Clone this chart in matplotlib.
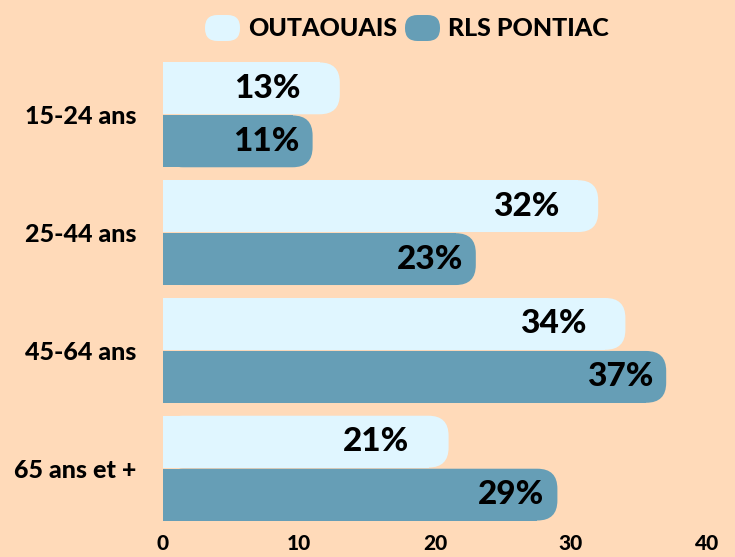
import matplotlib
matplotlib.use("Agg")
import matplotlib.pyplot as plt
from matplotlib.patches import FancyBboxPatch
import numpy as np

# data
categories = ["15-24 ans", "25-44 ans", "45-64 ans", "65 ans et +"]
outaouais = [13, 32, 34, 21]
rls_pontiac = [11, 23, 37, 29]
series_names = ["OUTAOUAIS", "RLS PONTIAC"]
x_ticks = [0, 10, 20, 30, 40]

BG = "#FFDAB9"
LIGHT = "#E0F6FF"
BLUE = "#669EB6"
WEIGHT = "black"

plt.rcParams["font.family"] = ["Lato", "DejaVu Sans"]

fig = plt.figure(figsize=(7.35, 5.57), dpi=100, facecolor=BG)
ax = fig.add_axes([163 / 735, 1 - 527 / 557, 544 / 735, 471 / 557])
ax.set_facecolor(BG)
ax.set_xlim(0, 40)
ax.set_ylim(3.5, -0.5)

y = np.arange(len(categories))
h = 0.44
off = 0.225

# rounding in data units (about 20 px)
px_x = 544 / 40
px_y = 471 / 4
rx = 20 / px_x
ry = 20 / px_y

def rounded_bars(ypos, vals, color, label_off):
    ax.barh(ypos, [v - rx for v in vals], height=h, color=color, linewidth=0)
    for yy, v in zip(ypos, vals):
        p = FancyBboxPatch((0, yy - h / 2), v, h,
                           boxstyle=f"round,pad=0,rounding_size={rx}",
                           mutation_aspect=ry / rx, facecolor=color,
                           edgecolor="none")
        ax.add_patch(p)
        ax.text(v - label_off / px_x, yy, f"{v}%", ha="right", va="center",
                fontsize=24, fontweight=WEIGHT, color="black")

rounded_bars(y - off, outaouais, LIGHT, 39)
rounded_bars(y + off, rls_pontiac, BLUE, 13)

ax.set_yticks(y)
ax.set_yticklabels(categories, fontsize=18, fontweight=WEIGHT)
ax.set_xticks(x_ticks)
ax.set_xticklabels([str(t) for t in x_ticks], fontsize=15, fontweight=WEIGHT)
ax.tick_params(axis="both", length=0)
ax.tick_params(axis="y", pad=19)
ax.tick_params(axis="x", pad=5)
for s in ax.spines.values():
    s.set_visible(False)

# legend drawn by hand with pill markers
W, H = 735, 557
def legend_item(x0, color, text):
    fig.patches.append(FancyBboxPatch((x0 / W, 1 - 41 / H), 35 / W, 26 / H,
                                      boxstyle="round,pad=0,rounding_size=0.017",
                                      mutation_aspect=W / H,
                                      transform=fig.transFigure,
                                      facecolor=color, edgecolor="none"))
    fig.text((x0 + 43) / W, 1 - 29 / H, text, fontsize=18, fontweight=WEIGHT,
             va="center", ha="left")

legend_item(205, LIGHT, series_names[0])
legend_item(405, BLUE, series_names[1])

fig.savefig("out.png", dpi=100, facecolor=BG)
